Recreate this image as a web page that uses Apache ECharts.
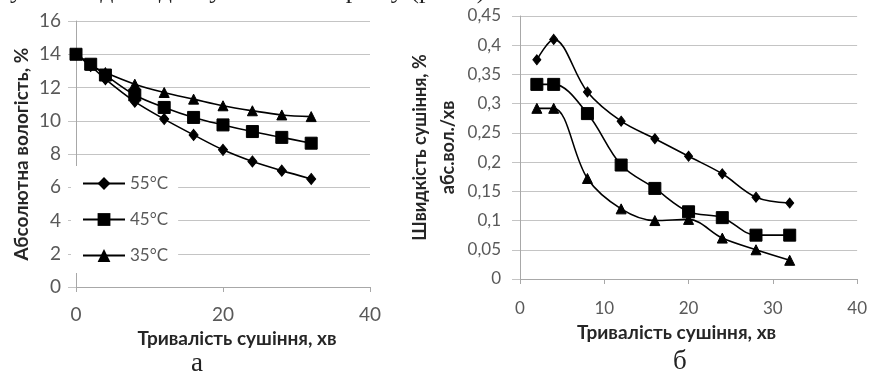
<!DOCTYPE html>
<html>
<head>
<meta charset="utf-8">
<script src="https://cdn.jsdelivr.net/npm/echarts@6/dist/echarts.min.js"></script>
<style>
html,body{margin:0;padding:0;background:#fff;}
#c{width:870px;height:373px;}
</style>
</head>
<body>
<div id="c"></div>
<script>
// ---- data ----
var seriesNames = ['55°C', '45°C', '35°C'];
var timeA = [0, 2, 4, 8, 12, 16, 20, 24, 28, 32];
var moist55 = [14, 13.3, 12.5, 11.15, 10.1, 9.15, 8.25, 7.55, 7.0, 6.5];
var moist45 = [14, 13.4, 12.75, 11.55, 10.8, 10.2, 9.75, 9.35, 9.0, 8.65];
var moist35 = [14, 13.35, 12.9, 12.2, 11.7, 11.3, 10.9, 10.6, 10.35, 10.25];

var timeB = [2, 4, 8, 12, 16, 20, 24, 28, 32];
var rate55 = [0.375, 0.41, 0.32, 0.27, 0.24, 0.21, 0.18, 0.14, 0.13];
var rate45 = [0.333, 0.333, 0.283, 0.195, 0.155, 0.115, 0.105, 0.075, 0.075];
var rate35 = [0.292, 0.292, 0.172, 0.12, 0.1, 0.102, 0.07, 0.05, 0.032];

var xTitle = 'Тривалість сушіння, хв';
var yTitleA = 'Абсолютна вологість, %';
var yTitleB = 'Швидкість сушіння, %\nабс.вол./хв';
var captionA = 'а';
var captionB = 'б';
var topLine = 'результати дослідів сушіння матеріалу (рис.5).';

// ---- build ----
function pairs(xs, ys) { return xs.map(function (x, i) { return [x, ys[i]]; }); }

var FONT = 'Lato, "Open Sans", "Noto Sans", sans-serif';
var labelColor = '#595959';
var gridColor = '#c4c4c4';
var axisColor = '#a8a8a8';

var symbols = ['diamond', 'rect', 'triangle'];
var symSizesA = [[9, 11], 12, 10];
var symSizesB = [[8, 10], 12, 10];

function makeSeries(name, data, xi, sym, size) {
  return {
    name: name, type: 'line', xAxisIndex: xi, yAxisIndex: xi,
    data: data, smooth: 0.35, symbol: sym, symbolSize: size,
    showSymbol: true,
    lineStyle: { color: '#000', width: 1.6 },
    itemStyle: { color: '#000', borderColor: '#000' },
    emphasis: { disabled: true },
    animation: false
  };
}

var series = [
  makeSeries(seriesNames[0], pairs(timeA, moist55), 0, symbols[0], symSizesA[0]),
  makeSeries(seriesNames[1], pairs(timeA, moist45), 0, symbols[1], symSizesA[1]),
  makeSeries(seriesNames[2], pairs(timeA, moist35), 0, symbols[2], symSizesA[2]),
  makeSeries(seriesNames[0], pairs(timeB, rate55), 1, symbols[0], symSizesB[0]),
  makeSeries(seriesNames[1], pairs(timeB, rate45), 1, symbols[1], symSizesB[1]),
  makeSeries(seriesNames[2], pairs(timeB, rate35), 1, symbols[2], symSizesB[2])
];

function titleStyle(pad) {
  return { fontSize: 19, fontWeight: 'bold', color: '#262626', fontFamily: FONT, padding: pad };
}

function xAx(gi, interval, fs, margin, gap, pad) {
  return {
    type: 'value', gridIndex: gi, min: 0, max: 40, interval: interval,
    axisLine: { show: true, lineStyle: { color: axisColor, width: 1 } },
    axisTick: { show: true, inside: false, length: 5, lineStyle: { color: axisColor } },
    axisLabel: { color: labelColor, fontSize: fs, fontFamily: FONT, margin: margin },
    splitLine: { show: false },
    name: xTitle, nameLocation: 'middle', nameGap: gap,
    nameTextStyle: titleStyle(pad)
  };
}

var chart = echarts.init(document.getElementById('c'), null, { renderer: 'canvas' });
chart.setOption({
  backgroundColor: '#fff',
  animation: false,
  grid: [
    { left: 76, top: 21, width: 294, height: 266 },
    { left: 520, top: 16, width: 338, height: 263 }
  ],
  xAxis: [
    xAx(0, 20, 19, 18, 32, [0, 0, 0, 28]),
    xAx(1, 10, 17, 21, 44, [0, 24, 0, 0])
  ],
  yAxis: [
    {
      type: 'value', gridIndex: 0, min: 0, max: 16, interval: 2,
      axisLine: { show: true, lineStyle: { color: axisColor } },
      axisTick: { show: true, length: 8, lineStyle: { color: gridColor } },
      axisLabel: { color: labelColor, fontSize: 19, fontFamily: FONT, margin: 15 },
      splitLine: { show: true, lineStyle: { color: gridColor, width: 1 } },
      name: yTitleA, nameLocation: 'middle', nameGap: 45, nameRotate: 90,
      nameTextStyle: titleStyle(0)
    },
    {
      type: 'value', gridIndex: 1, min: 0, max: 0.45, interval: 0.05,
      axisLine: { show: true, lineStyle: { color: axisColor } },
      axisTick: { show: true, length: 8, lineStyle: { color: gridColor } },
      axisLabel: {
        color: labelColor, fontSize: 17, fontFamily: FONT, margin: 19,
        formatter: function (v) { return String(+v.toFixed(2)).replace('.', ','); }
      },
      splitLine: { show: true, lineStyle: { color: gridColor, width: 1 } },
      name: yTitleB, nameLocation: 'middle', nameGap: 58, nameRotate: 90,
      nameTextStyle: { fontSize: 18, fontWeight: 'bold', color: '#262626', fontFamily: FONT, lineHeight: 28, align: 'center' }
    }
  ],
  legend: {
    orient: 'vertical', left: 71, top: 166,
    backgroundColor: '#fff', padding: [9, 10, 9, 11],
    itemWidth: 42, itemHeight: 16, itemGap: 19,
    textStyle: { fontSize: 17, color: labelColor, fontFamily: FONT },
    data: seriesNames, selectedMode: false
  },
  graphic: [
    { type: 'text', left: 191, top: 350, style: { text: captionA, font: '27px "Liberation Serif", serif', fill: '#222' } },
    { type: 'text', left: 673, top: 348, style: { text: captionB, font: '27px "Liberation Serif", serif', fill: '#222' } },
    { type: 'text', x: 492, y: -22, style: { text: topLine, font: '26px "Liberation Serif", serif', fill: '#222', align: 'right', verticalAlign: 'top' } }
  ],
  series: series
});
</script>
</body>
</html>
